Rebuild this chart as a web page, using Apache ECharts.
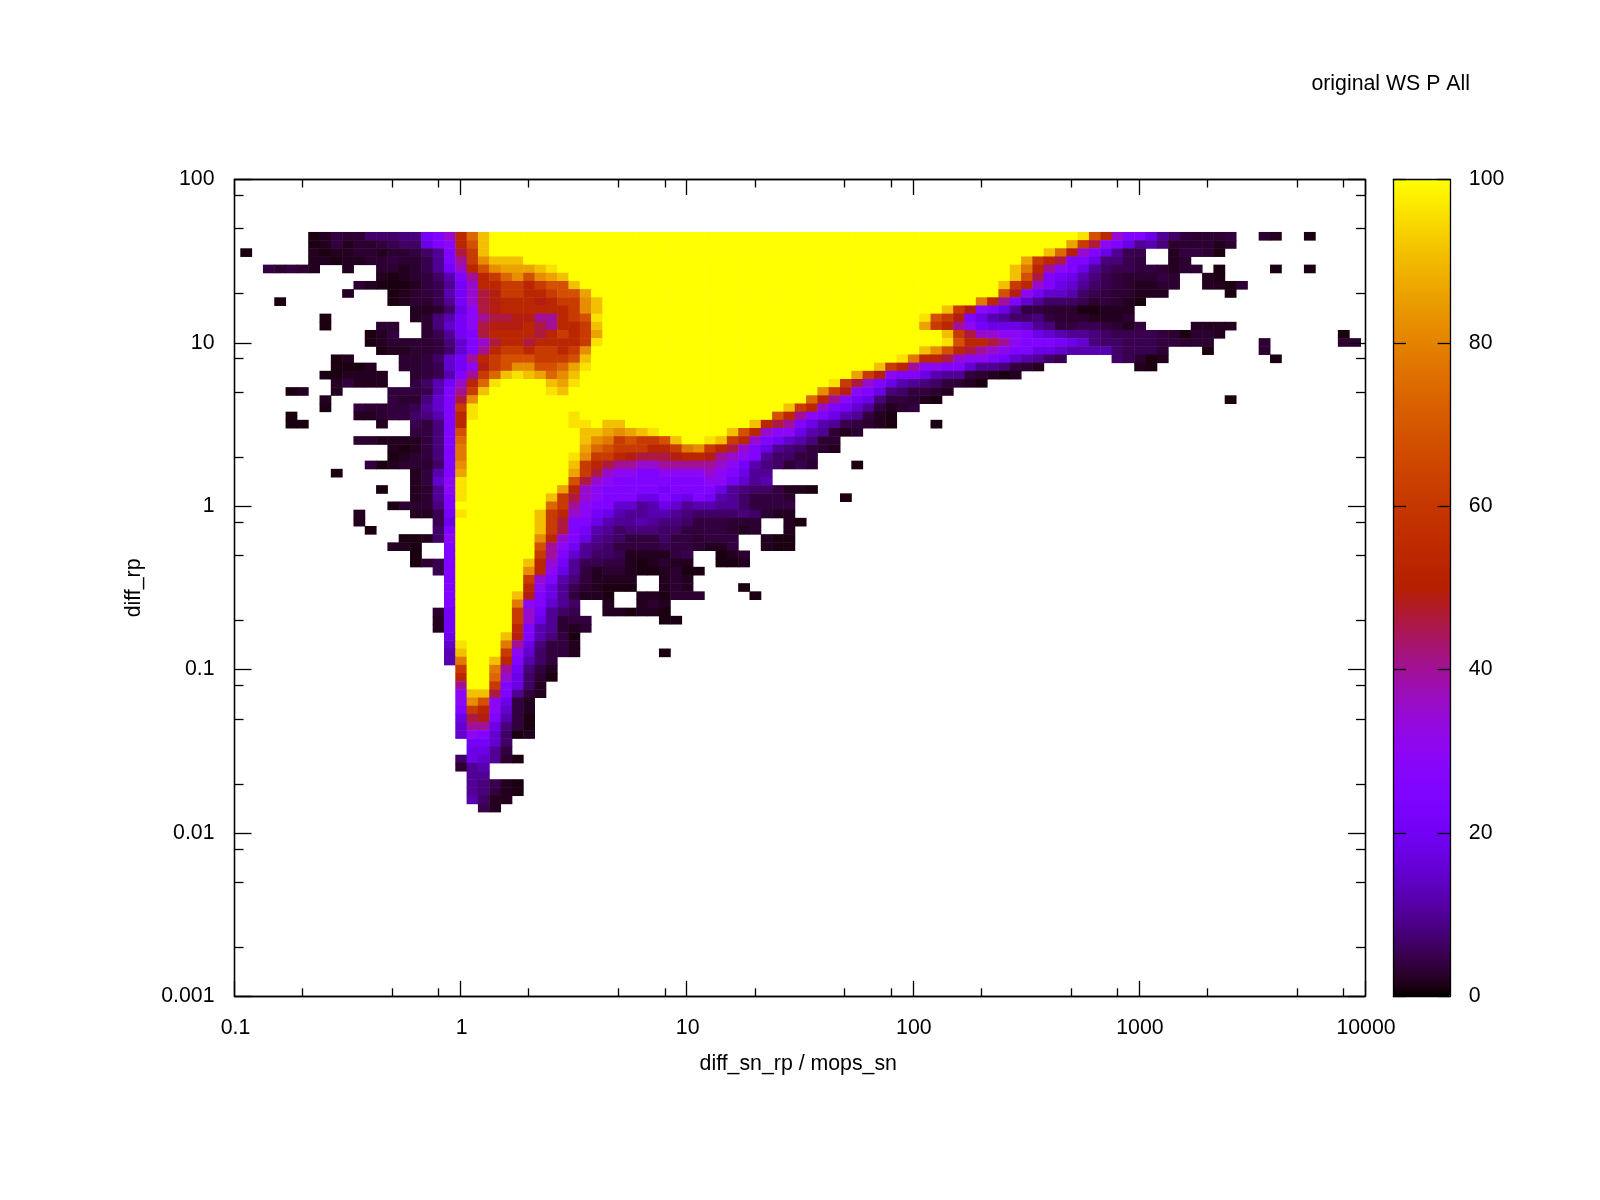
<!DOCTYPE html>
<html><head><meta charset="utf-8">
<style>html,body{margin:0;padding:0;background:#fff}#c{width:1600px;height:1200px}</style>
<script src="https://cdn.jsdelivr.net/npm/echarts@6/dist/echarts.min.js"></script>
</head><body><div id="c"></div>
<script>
// Texts and ticks
const titleText = 'original WS P All';
const xName = 'diff_sn_rp / mops_sn';
const yName = 'diff_rp';
const minorX = [0.2,0.5,0.8,2,5,8,20,50,80,200,500,800,2000,5000,8000];
const minorY = [0.002,0.005,0.008,0.02,0.05,0.08,0.2,0.5,0.8,2,5,8,20,50,80];
// Value read for every letter used in the rows below
const levelKeys = 'abcdefghijklmnopqrstuvwxyABZ';
const levelVals = [1,2,3,4,5,6.5,8,10,12,15,18,21,25,30,35,40,46,49,53,61,68,74,78,82,86,91,96,100];
// One text row per histogram row, top to bottom; '.' is an empty cell, a number repeats the preceding letter
const rows = [
".7abdccfffgglmosvAZ52Busommkhfdcccd.2cb.2a",
".7abdbccdeffkmnsuAZ51ytqnmkhigccccbc",
".1a.5babbccbccdfhmqtAZ49Avromkhee.2bddca",
".7bbabbccdccehmptxAAAZ44ytsqmmkgged.2bc",
".3dcdcb.2b.2ccbcehlosuxyyyABZ40Awspnmkhfeeddcbcc.a.4a.2a",
".13babcdfimpstvxuxyAZ39Auqmlkigedcccdc.2ba",
".11cbaaabdehlossttstuuAZ37Atsomkjhfedcbbcc.2bbac",
".10b.3abcdeiloqrttsstuuyZ36urnljjifedccbbb.5a",
".4a.9abccehloqrsssrsttxAZ33wspmjhfffecdcba",
".16bbcfknqrsssssstxAZ30Atrnmkhddcccaabbb",
".8a.7bcgilnpqqrrppstuBZ28Butrmkihffgdcccbbbc",
".8a.4cc.2cgjlnqrrrsqpsstAZ28ytspnlkkkjhgddeedcbd.4bbbb",
".12abd.2cehlmqssssqststyZ30Atqoonnmkjihhgfeeeedcaccb.10a",
".12abccccdgjmoqssqsssstBZ30Bussqpnmmmlkjgffeeeddccc.4c.6cc",
".13abbccdfjmpsttsttstxZ29Axusqponmmkkjiiiifeeec.3a.4c",
".9ab.4ccdfjlpstuuutttuAZ27Bwssqonnmljihfe.4fecab.9a",
".9aaab.2ccdejlnrtuxxuuvyBZ25Atspnnmmjhhgdcb.8ba",
".8aabbbb.2cdeimptvABAyvxAZ24ytrnmmkihhdcbab",
".9bdbbb.2dfilosvBZ4AyBZ22Btqomkihgfdcba",
".5ab.2b.4dddeimptAZ5BAZ22xtrnmkgfddcb",
".8b.5dccgjmqxZ29vspnlkgddcba.25a",
".8a.2dccddehjmtBZ27Atsomljhdbcd",
".5a.5bbcddfgimsBZ8BZ17uspnmkihdba",
".5aa.6b.2edgmsZ9BBZAAZ11Asqpmkihedcba.3a",
".16ddgmuZ10AAyxyABZ6Ausonnkihcbc",
".11ccbbbbdgmvZ10AxwtuttuAZZBAtsomljigcc",
".14babdgmwZ10yvutttsstwxtsqomkhgfdcb",
".14abcdgmwZ9Bxttsrqqqrssrponmhffdd",
".12dabcccfmxZ9Atsqppoopppppo" + "nligfcec.3a",
".9a.6bdimyZ9ytqonnmmnnnnonmkhh",
".16bdjnBZ9uqonm8nnljhi",
".13a.2bchnBZ8ysonm5lm4khgffdbba",
".16bchmBZ7Atqonmmmkkmlkmlihfdddc.4a",
".14acccgmZ8vtpnmmjjhikjhiihhfdddd",
".11b.4bbelBZ6Atsonlkihhiihgffffgfcbb",
".11b.6ekZ7Atqmmkihhihggfdddccc.2ba",
".12a.5fmZ7Atqmlihfgggffddddcbc.2b",
".15aabfnZ7xsomkhgfdddfddcddd.2baa",
".14bba.2mZ7upnlhgfddddeddcbbd.2baa",
".16a.2mZ7tpmjhffebbbbde.2abc",
".16acemZ6Asolheeddbabcbb.2aab",
".18emZ6xsnkhdbccbaabcaa",
".19mZ6tomigdbbbb.2bcb",
".19mZ6snkhecbaaa.2bcb.4a",
".19mZ5Armkhdbba.2bbaccc.4a",
".19mZ5wnmjhf.2b.2bcb",
".18clZ5tolhfe.2bbabba",
".18blZ5tokhcdd.6aa",
".18blZ5smihcbc",
".19kZ4Armigda",
".19jBZ3wpkgddb",
".19iAZ3tnjfddb.7a",
".19iwZ2Asmifd",
".20tZ2wplgdb",
".20sZ2vokfca",
".20pZ2tmkfb",
".20nAAqmhdb",
".20nxunkdb",
".20mtsnjdb",
".20kqrmida",
".20jppkgda",
".20jnmjfab",
".21lljf",
".21kkhd",
".20fkjhca",
".20chi",
".21hh",
".21hgeba",
".21hgdba",
".21ifbb",
".22eb"
];
const nCols = 100;
const xCats = Array.from({length:nCols},(_,i)=>String(i));
const yCats = rows.map((_,i)=>String(i));
const heat = [];
rows.forEach((s,r)=>{
  let k=0;
  for(const m of s.matchAll(/([.a-zA-Z])(\d*)/g)){
    const n = m[2]?parseInt(m[2]):1;
    for(let i=0;i<n;i++,k++){
      if(m[1]!=='.') heat.push([k,r,levelVals[levelKeys.indexOf(m[1])]]);
    }
  }
  if(k>nCols) console.error('row too long',r,k);
});
// gnuplot default palette (rgbformulae 7,5,15)
const palette=[];
for(let i=0;i<=100;i++){
  const x=i/100, c=v=>Math.round(255*Math.max(0,Math.min(1,v)));
  palette.push(`rgb(${c(Math.sqrt(x))},${c(x*x*x)},${c(Math.sin(2*Math.PI*x))})`);
}
const font='"Liberation Sans", Arial, sans-serif';
const fs=21.3, ink='#000';
const G0={left:234.5,top:179.5,width:1130.5,height:816.8};
const lineS={show:true,onZero:false,lineStyle:{color:ink,width:1.3}};
function logAxis(kind,pos,opts){
  return Object.assign({type:'log',logBase:10,gridIndex:0,position:pos,z:5,silent:true,
    min:kind==='x'?0.1:0.001,max:kind==='x'?10000:100,splitLine:{show:false},minorTick:{show:false},minorSplitLine:{show:false},
    axisLine:lineS},opts);
}
const noLbl={show:false};
const xAxes=[
 logAxis('x','bottom',{axisTick:{show:true,inside:true,length:15.5,lineStyle:{color:ink,width:1.3}},
   axisLabel:{show:true,color:ink,fontFamily:font,fontSize:fs,margin:21,padding:[0,0,0,2],showMinLabel:true,showMaxLabel:true,formatter:v=>String(v)},
   name:xName,nameLocation:'middle',nameGap:57.5,nameTextStyle:{color:ink,fontFamily:font,fontSize:fs,padding:[0,3,0,0]}}),
 logAxis('x','top',{axisTick:{show:true,inside:true,length:15.5,lineStyle:{color:ink,width:1.3}},axisLabel:noLbl}),
 logAxis('x','bottom',{axisTick:{show:true,inside:true,length:8,customValues:minorX,lineStyle:{color:ink,width:1.3}},axisLabel:noLbl}),
 logAxis('x','top',{axisTick:{show:true,inside:true,length:8,customValues:minorX,lineStyle:{color:ink,width:1.3}},axisLabel:noLbl}),
 {type:'category',gridIndex:1,data:xCats,show:false,boundaryGap:true},
 {type:'value',gridIndex:2,min:0,max:1,position:'top',z:5,axisLine:lineS,axisTick:{show:false},axisLabel:noLbl,splitLine:{show:false}},
 {type:'value',gridIndex:2,min:0,max:1,position:'bottom',z:5,axisLine:lineS,axisTick:{show:false},axisLabel:noLbl,splitLine:{show:false}}
];
const yAxes=[
 logAxis('y','left',{axisTick:{show:true,inside:true,length:17,lineStyle:{color:ink,width:1.3}},
   axisLabel:{show:true,color:ink,fontFamily:font,fontSize:fs,margin:20,padding:[2,0,0,0],showMinLabel:true,showMaxLabel:true,formatter:v=>String(v)},
   name:yName,nameLocation:'middle',nameGap:90,nameTextStyle:{color:ink,fontFamily:font,fontSize:fs}}),
 logAxis('y','right',{axisTick:{show:true,inside:true,length:17,lineStyle:{color:ink,width:1.3}},axisLabel:noLbl}),
 logAxis('y','left',{axisTick:{show:true,inside:true,length:9,customValues:minorY,lineStyle:{color:ink,width:1.3}},axisLabel:noLbl}),
 logAxis('y','right',{axisTick:{show:true,inside:true,length:9,customValues:minorY,lineStyle:{color:ink,width:1.3}},axisLabel:noLbl}),
 {type:'category',gridIndex:1,data:yCats,show:false,inverse:true,boundaryGap:true},
 {type:'value',gridIndex:2,min:0,max:100,interval:20,position:'left',z:5,axisLine:lineS,
   axisTick:{show:true,inside:true,length:12.7,lineStyle:{color:ink,width:1.3}},axisLabel:noLbl,splitLine:{show:false}},
 {type:'value',gridIndex:2,min:0,max:100,interval:20,position:'right',z:5,axisLine:lineS,
   axisTick:{show:true,inside:true,length:12.7,lineStyle:{color:ink,width:1.3}},
   axisLabel:{show:true,color:ink,fontFamily:font,fontSize:fs,margin:18.5,padding:[2,0,0,0]},splitLine:{show:false}}
];
const chart=echarts.init(document.getElementById('c'),null,{renderer:'canvas',width:1600,height:1200});
chart.setOption({
  backgroundColor:'#fff',animation:false,
  title:{text:titleText,right:130,top:74,padding:0,textStyle:{color:ink,fontFamily:font,fontSize:fs,fontWeight:'normal'}},
  grid:[G0,{left:229.24,top:232.2,width:1131.5,height:71*8.168},{left:1393.3,top:179.5,width:57,height:816.8}],
  xAxis:xAxes,yAxis:yAxes,
  visualMap:{type:'continuous',min:0,max:100,seriesIndex:0,dimension:2,calculable:false,hoverLink:false,realtime:false,
    left:1393.3,top:179.5,itemWidth:57,itemHeight:816.8,text:null,showLabel:false,z:1,
    inRange:{color:palette},padding:0,textStyle:{fontSize:0}},
  series:[{type:'heatmap',xAxisIndex:4,yAxisIndex:4,data:heat,progressive:0,silent:true,z:1,emphasis:{disabled:true},itemStyle:{borderWidth:0}}]
});
</script></body></html>
